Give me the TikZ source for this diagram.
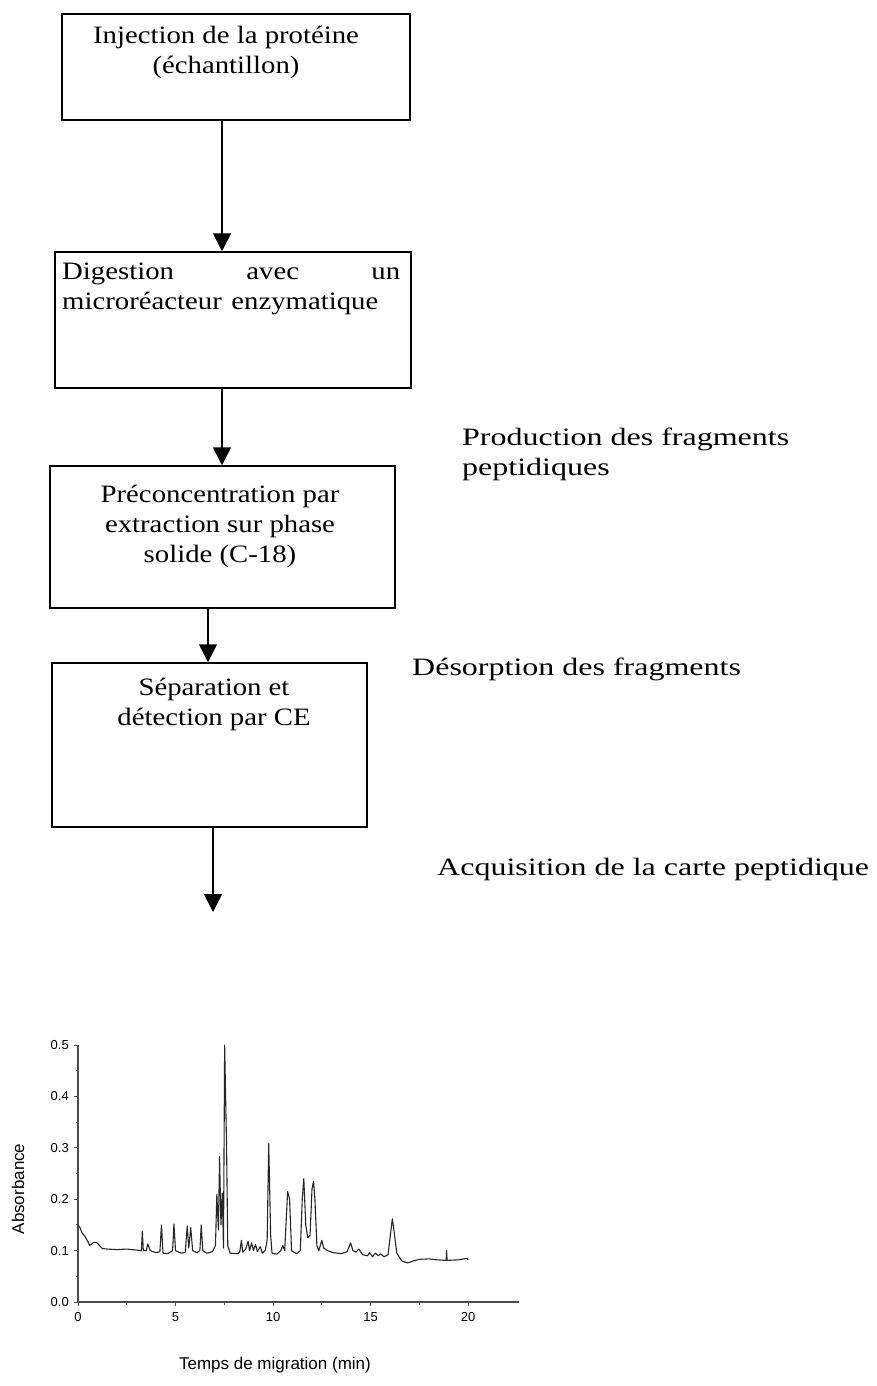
\documentclass[tikz,border=0pt]{standalone}
\usepackage{graphicx}
\usepackage{fontspec}
\setmainfont{Liberation Serif}
\newfontfamily\chartfont{Liberation Sans}
\usetikzlibrary{arrows.meta}
\newcommand\wb[1]{\scalebox{1.15}[1]{#1}}
\newcommand\ws[1]{\scalebox{1.28}[1]{#1}}
\tikzset{
  stepbox/.style={draw=black, line width=1.5pt, inner sep=0pt},
  boxtext/.style={anchor=north, align=center, inner sep=0pt, font=\fontsize{25}{30}\selectfont},
  sidetext/.style={anchor=north west, align=left, inner sep=0pt, font=\fontsize{25}{30}\selectfont},
  flow/.style={line width=1.5pt, -{Triangle[width=18pt,length=18pt]}},
  axisline/.style={draw=black!70, line width=1.3pt},
  trace/.style={draw=black!85, line width=1.1pt, line join=round},
  ticklab/.style={font=\chartfont\fontsize{13}{15}\selectfont, inner sep=0pt},
  axtitle/.style={font=\chartfont\fontsize{17}{20}\selectfont, inner sep=0pt}
}
\begin{document}
\begin{tikzpicture}[x=1pt,y=-1pt]
\useasboundingbox (0,0) rectangle (877,1386);
% boxes
\node[stepbox, minimum width=348pt, minimum height=106pt] (b1) at (236,67) {};
\node[stepbox, minimum width=356pt, minimum height=136pt] (b2) at (233,320) {};
\node[stepbox, minimum width=345pt, minimum height=142pt] (b3) at (222.5,537) {};
\node[stepbox, minimum width=315pt, minimum height=164pt] (b4) at (209.5,745) {};
% texts
\node[boxtext] (t1) at (226,26) {\wb{Injection de la protéine}\\\wb{(échantillon)}};
\node[boxtext, anchor=north west, text width=338pt, align=left] (t2) at (62,263) {\wb{Digestion}\hfill\wb{avec}\hfill\wb{un}\\\wb{microréacteur enzymatique}};
\node[boxtext] (t3) at (220,485) {\wb{Préconcentration par}\\\wb{extraction sur phase}\\\wb{solide (C-18)}};
\node[boxtext] (t4) at (214,678) {\wb{Séparation et}\\\wb{détection par CE}};
\node[sidetext] (s1) at (462,428) {\ws{Production des fragments}\\\ws{peptidiques}};
\node[sidetext] (s2) at (412,658) {\ws{Désorption des fragments}};
\node[sidetext] (s3) at (437,858) {\ws{Acquisition de la carte peptidique}};
% connectors
\coordinate (e4) at (213,912);
\draw[flow] (b1.south -| 222,0) -- (b2.north -| 222,0);
\draw[flow] (b2.south -| 222,0) -- (b3.north -| 222,0);
\draw[flow] (b3.south -| 208,0) -- (b4.north -| 208,0);
\draw[flow] (b4.south -| 213,0) -- (e4);
% chart
\begin{scope}[xshift=78pt, yshift=-1302pt, x=19.5pt, y=514pt]
  \draw[axisline] (0,0) -- (0,0.5);
  \draw[axisline] (0,0) -- (22.6,0);
  \foreach \v in {0.0,0.1,0.2,0.3,0.4,0.5} {
    \draw[axisline, line width=1pt] (0,\v) -- ++(-4pt,0);
    \node[ticklab, anchor=east] at ([xshift=-9pt]0,\v) {\v};
  }
  \foreach \v in {0.05,0.15,0.25,0.35,0.45} {
    \draw[axisline, line width=1pt] (0,\v) -- ++(-2.5pt,0);
  }
  \foreach \t in {0,5,10,15,20} {
    \draw[axisline, line width=1pt] (\t,0) -- ++(0,-4pt);
    \node[ticklab, anchor=north] at ([yshift=-10pt]\t,0) {\t};
  }
  \foreach \t in {2.5,7.5,12.5,17.5} {
    \draw[axisline, line width=1pt] (\t,0) -- ++(0,-2.5pt);
  }
  \node[axtitle, anchor=north] at ([yshift=-55pt]10.1,0) {Temps de migration (min)};
  \node[axtitle, rotate=90, anchor=center] at ([xshift=-60pt]0,0.22) {Absorbance};
  \draw[trace] plot coordinates {
(0,0.150) (0.1,0.145) (0.2,0.135) (0.35,0.128) (0.5,0.118) (0.6,0.110) (0.7,0.113) (0.8,0.116) (0.95,0.116) (1.1,0.110) (1.25,0.104) (1.5,0.103) (2,0.102) (2.5,0.103) (3,0.101) (3.25,0.100) (3.3,0.138) (3.35,0.100) (3.5,0.100) (3.58,0.113) (3.7,0.100) (4.0,0.096) (4.2,0.098) (4.28,0.150) (4.36,0.095) (4.6,0.094) (4.85,0.100) (4.92,0.152) (5.0,0.100) (5.3,0.095) (5.5,0.097) (5.6,0.148) (5.68,0.105) (5.78,0.145) (5.88,0.100) (6.1,0.096) (6.25,0.100) (6.32,0.150) (6.4,0.100) (6.6,0.095) (6.9,0.098) (7.05,0.110) (7.12,0.210) (7.2,0.140) (7.26,0.283) (7.33,0.150) (7.4,0.212) (7.46,0.105) (7.52,0.500) (7.62,0.300) (7.68,0.110) (7.8,0.095) (8.2,0.094) (8.3,0.098) (8.38,0.120) (8.45,0.097) (8.6,0.103) (8.72,0.118) (8.8,0.100) (8.9,0.115) (9.0,0.100) (9.1,0.112) (9.2,0.098) (9.35,0.108) (9.45,0.095) (9.6,0.100) (9.7,0.120) (9.78,0.308) (9.88,0.130) (9.95,0.095) (10.2,0.093) (10.4,0.100) (10.5,0.110) (10.6,0.100) (10.75,0.215) (10.85,0.200) (10.95,0.100) (11.2,0.094) (11.4,0.100) (11.5,0.200) (11.58,0.240) (11.68,0.150) (11.78,0.125) (11.9,0.130) (12.0,0.220) (12.08,0.235) (12.15,0.200) (12.25,0.110) (12.35,0.100) (12.5,0.120) (12.6,0.105) (12.8,0.100) (13.1,0.096) (13.5,0.094) (13.8,0.098) (13.98,0.115) (14.1,0.100) (14.25,0.097) (14.4,0.103) (14.6,0.092) (14.85,0.090) (14.95,0.096) (15.1,0.088) (15.25,0.095) (15.4,0.090) (15.5,0.094) (15.7,0.088) (15.9,0.092) (16.05,0.140) (16.12,0.162) (16.2,0.140) (16.35,0.095) (16.6,0.080) (16.9,0.076) (17.2,0.080) (17.5,0.083) (18.0,0.084) (18.4,0.082) (18.88,0.081) (18.9,0.100) (18.93,0.081) (19.5,0.082) (19.8,0.084) (19.95,0.085) (20.0,0.082)};
\end{scope}
\end{tikzpicture}
\end{document}
